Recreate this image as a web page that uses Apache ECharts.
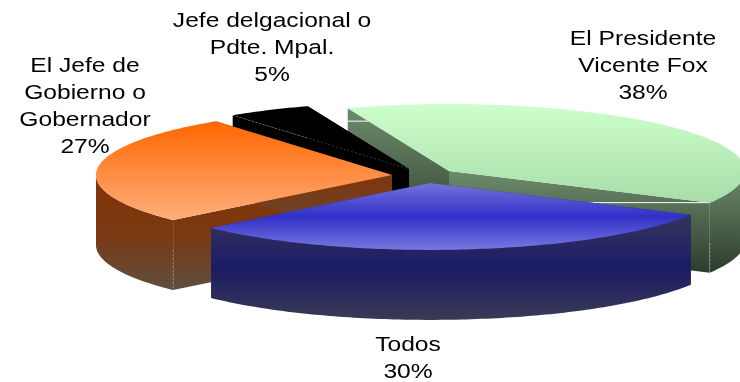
<!DOCTYPE html>
<html><head><meta charset="utf-8">
<style>html,body{margin:0;padding:0;background:#fff}#c{width:740px;height:382px}</style>
<script src="https://cdn.jsdelivr.net/npm/echarts@6/dist/echarts.min.js"></script>
</head><body><div id="c"></div>
<script>
// DATA
const categories = ['El Presidente\nVicente Fox', 'Todos', 'El Jefe de\nGobierno o\nGobernador', 'Jefe delgacional o\nPdte. Mpal.'];
const values = [38.4, 30.4, 26.6, 4.6];

// STYLE / LAYOUT
const startAngle = -20, radius = 296, tilt = 0.226, depth = 70;
const apexX = [449, 430, 392, 409];
const apexY = [171, 183, 175, 169];
const labelX = [643, 408, 85, 272];
const labelY = [66, 359, 107, 48];
const paintOrder = [0, 3, 2, 1];
const grad = stops => ({type:'linear', x:0, y:0, x2:0, y2:1,
  colorStops: stops.map((c,i)=>({offset:i/(stops.length-1), color:c}))});
const topFill = [grad(['#ccffcc','#a8dca8']), grad(['#7474dc','#3030c8','#7878e0']), grad(['#ff6600','#ffae7c']), '#000000'];
const wallFill = [grad(['#6c8c6c','#2e3c2c']), grad(['#35355f','#1b1b66','#3a3a55']), grad(['#823406','#7b3810','#5f4e40']), '#000000'];

const total = values.reduce((a,b)=>a+b,0);
function renderItem(params, api){
  const i = params.dataIndex;
  let a0 = startAngle;
  for(let k=0;k<i;k++) a0 += values[k]/total*360;
  const a1 = a0 + values[i]/total*360;
  const rad = d => d*Math.PI/180;
  const P = (th,dz=0)=>api.coord([apexX[i]+radius*Math.sin(rad(th)), apexY[i]-radius*tilt*Math.cos(rad(th))+dz]);
  const A = (dz=0)=>api.coord([apexX[i], apexY[i]+dz]);
  const arc = (s,e,dz=0)=>{const n=Math.max(2,Math.ceil(Math.abs(e-s)));const o=[];for(let k=0;k<=n;k++)o.push(P(s+(e-s)*k/n,dz));return o;};
  const z = paintOrder.indexOf(i)*10;
  const kids = [];
  const poly = (pts,fill,zz)=>kids.push({type:'polygon',shape:{points:pts},style:{fill,stroke:null},z2:z+zz,silent:true});
  // outer wall: only the front-facing part of the rim (90..270 deg)
  const s = Math.max(a0,90), e = Math.min(a1,270);
  if(e>s) poly(arc(s,e).concat(arc(e,s,depth)), wallFill[i], 2);
  // radial walls
  poly([P(a0),A(),A(depth),P(a0,depth)], wallFill[i], 1);
  poly([P(a1),A(),A(depth),P(a1,depth)], wallFill[i], 1);
  // top face
  poly([A()].concat(arc(a0,a1)), topFill[i], 4);
  // rendering seams
  if(i===0){
    const ps=P(a0), pe=P(a1);
    const x0=apexX[i]+radius*Math.sin(rad(a0)), y0=apexY[i]-radius*tilt*Math.cos(rad(a0));
    const yA=y0+13, xA=x0+(apexX[i]-x0)*13/(apexY[i]-y0);
    kids.push({type:'line',shape:{x1:ps[0],y1:yA,x2:xA,y2:yA},style:{stroke:'#ffffff',lineWidth:1},z2:z+3,silent:true});
    kids.push({type:'line',shape:{x1:apexX[i],y1:pe[1],x2:pe[0],y2:pe[1]},style:{stroke:'#ffffff',lineWidth:1},z2:z+3,silent:true});
    kids.push({type:'line',shape:{x1:pe[0],y1:pe[1]+depth*0.58,x2:pe[0],y2:pe[1]+depth},style:{stroke:'rgba(255,255,255,0.45)',lineWidth:1,lineDash:[2,2]},z2:z+3,silent:true});
  }
  if(i===2){
    const ps=P(a0);
    kids.push({type:'line',shape:{x1:ps[0],y1:ps[1]+depth*0.43,x2:ps[0],y2:ps[1]+depth},style:{stroke:'rgba(255,255,255,0.3)',lineWidth:1,lineDash:[2,2]},z2:z+3,silent:true});
  }
  if(i===3){
    kids.push({type:'polyline',shape:{points:[P(a0),A()]},style:{stroke:'rgba(255,255,255,0.22)',fill:null,lineWidth:1,lineDash:[2,2]},z2:z+5,silent:true});
  }
  // label
  const L = api.coord([labelX[i],labelY[i]]);
  kids.push({type:'text',x:L[0],y:L[1],scaleX:1.2,z2:100,silent:true,style:{
    text:categories[i]+'\n'+Math.round(values[i])+'%',
    font:'20.5px "Liberation Sans", Arial, sans-serif',lineHeight:27,fill:'#000',align:'center',verticalAlign:'middle'}});
  return {type:'group',children:kids};
}
const chart = echarts.init(document.getElementById('c'),null,{renderer:'canvas'});
chart.setOption({
  animation:false,
  backgroundColor:'#ffffff',
  grid:{left:0,right:0,top:0,bottom:0},
  xAxis:{type:'value',min:0,max:740,show:false},
  yAxis:{type:'value',min:0,max:382,inverse:true,show:false},
  series:[{type:'custom',coordinateSystem:'cartesian2d',clip:false,renderItem,
    data:values.map((v,i)=>[i,v])}]
});
</script></body></html>
